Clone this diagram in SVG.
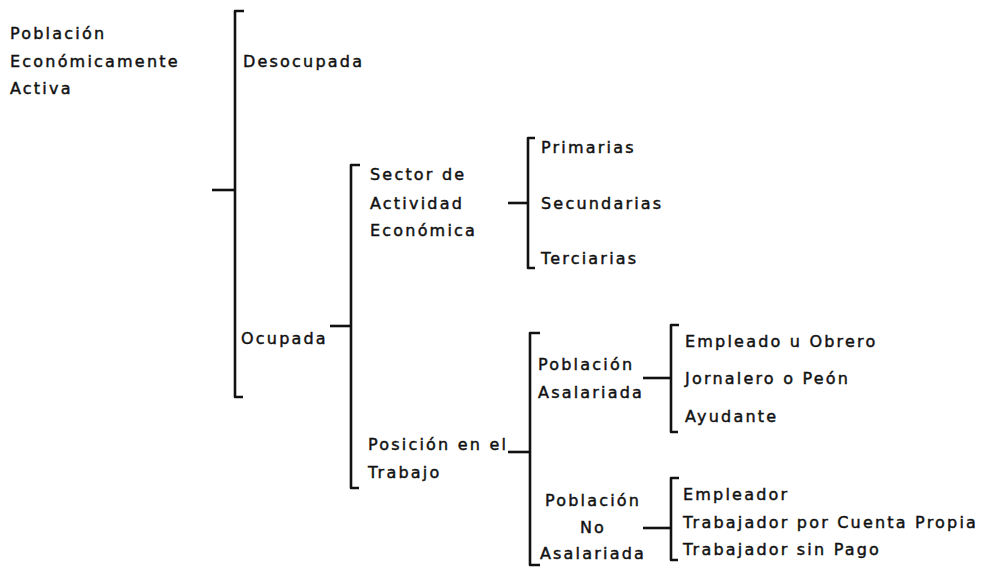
<svg xmlns="http://www.w3.org/2000/svg" width="985" height="574" viewBox="0 0 985 574">
<style>
text{font-family:"DejaVu Sans","Open Sans",sans-serif;font-size:16px;letter-spacing:2.2px;fill:#111;stroke:#111;stroke-width:0.45px}
.c{fill:none;stroke:#111;stroke-width:2.6;stroke-linejoin:round}
</style>
<rect width="985" height="574" fill="#fff"/>
<g id="connectors">
<path class="c" d="M244,11 L235,11 L235,397 L243,397"/>
<path class="c" d="M212,190 L235,190"/>
<path class="c" d="M330,326 L350,326"/>
<path class="c" d="M360,165 L351,165 L351,488 L359,488"/>
<path class="c" d="M508,203 L528,203"/>
<path class="c" d="M535,138 L528,138 L528,268 L535,268"/>
<path class="c" d="M508,452 L530,452"/>
<path class="c" d="M540,333 L530,333 L530,565 L540,565"/>
<path class="c" d="M643,378 L670,378"/>
<path class="c" d="M679,325 L671,325 L671,432 L678,432"/>
<path class="c" d="M643,528 L670,528"/>
<path class="c" d="M679,478 L671,478 L671,560 L678,560"/>
</g>
<g id="pea"><text x="10" y="39">Población</text><text x="10" y="67">Económicamente</text><text x="10" y="94">Activa</text></g>
<g id="desocupada"><text x="243" y="67">Desocupada</text></g>
<g id="ocupada"><text x="241" y="344">Ocupada</text></g>
<g id="sector"><text x="370" y="180">Sector de</text><text x="370" y="209">Actividad</text><text x="370" y="236">Económica</text></g>
<g id="primarias"><text x="541" y="153">Primarias</text></g>
<g id="secundarias"><text x="541" y="209">Secundarias</text></g>
<g id="terciarias"><text x="541" y="264">Terciarias</text></g>
<g id="posicion"><text x="368" y="450">Posición en el</text><text x="368" y="478">Trabajo</text></g>
<g id="asalariada"><text x="538" y="370">Población</text><text x="538" y="398">Asalariada</text></g>
<g id="empleado"><text x="685" y="347">Empleado u Obrero</text></g>
<g id="jornalero"><text x="685" y="384">Jornalero o Peón</text></g>
<g id="ayudante"><text x="685" y="422">Ayudante</text></g>
<g id="noasalariada"><text x="593" y="506" text-anchor="middle">Población</text><text x="593" y="533" text-anchor="middle">No</text><text x="593" y="559" text-anchor="middle">Asalariada</text></g>
<g id="empleador"><text x="683" y="500">Empleador</text></g>
<g id="cuentapropia"><text x="683" y="528">Trabajador por Cuenta Propia</text></g>
<g id="sinpago"><text x="683" y="555">Trabajador sin Pago</text></g>
</svg>
